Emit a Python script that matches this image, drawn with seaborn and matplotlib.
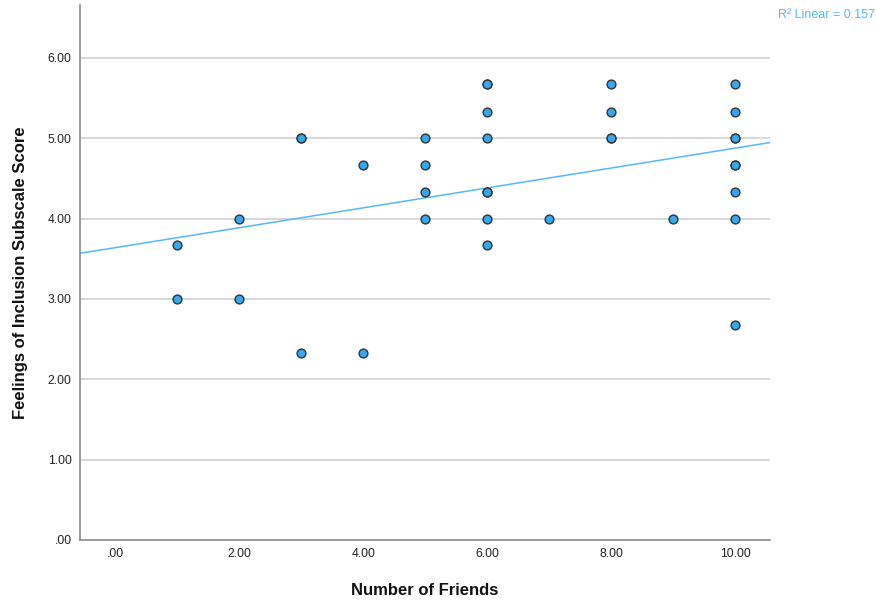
import numpy as np
import pandas as pd
import seaborn as sns
from matplotlib import pyplot as plt

# number of friends / inclusion score (overlapping points repeated)
friends = [1, 1,
           2, 2,
           3, 3, 3,
           4, 4,
           5, 5, 5, 5,
           6, 6, 6, 6, 6, 6, 6, 6,
           7,
           8, 8, 8, 8,
           9,
           10, 10, 10, 10, 10, 10, 10, 10, 10]
inclusion = [3.67, 3.00,
             4.00, 3.00,
             5.00, 5.00, 2.33,
             4.67, 2.33,
             5.00, 4.67, 4.33, 4.00,
             5.67, 5.67, 5.33, 5.00, 4.33, 4.33, 4.00, 3.67,
             4.00,
             5.67, 5.33, 5.00, 5.00,
             4.00,
             5.67, 5.33, 5.00, 5.00, 4.67, 4.67, 4.33, 4.00, 2.67]
x_ticks = [0, 2, 4, 6, 8, 10]
y_ticks = [0, 1, 2, 3, 4, 5, 6]

df = pd.DataFrame({'friends': friends, 'inclusion': inclusion})

sns.set_style('white')
plt.rcParams['font.family'] = ['Liberation Sans', 'DejaVu Sans']

fig = plt.figure(figsize=(8.77, 6.02), dpi=100)
ax = fig.add_axes([0.0912, 0.103, 0.787, 0.889])
ax.set_xlim(-0.565, 10.56)
ax.set_ylim(0, 6.66)

for yt in y_ticks[1:]:
    ax.axhline(yt, color='#d4d4d4', lw=1.3, zorder=0)

sns.regplot(data=df, x='friends', y='inclusion', ax=ax, ci=None, truncate=False,
            scatter_kws=dict(s=40, color='#34a8f0', edgecolor='#333333', linewidths=1, alpha=1, zorder=3),
            line_kws=dict(color='#55b8f7', lw=1.1, zorder=2))

ax.set_xlim(-0.565, 10.56)
ax.set_ylim(0, 6.66)
ax.set_xticks(x_ticks)
ax.set_xticklabels(['.00' if v == 0 else f'{v:.2f}' for v in x_ticks])
ax.set_yticks(y_ticks)
ax.set_yticklabels(['.00' if v == 0 else f'{v:.2f}' for v in y_ticks])
ax.tick_params(axis='both', length=0, labelsize=8.7, colors='#222222', pad=6)

for s in ['top', 'right']:
    ax.spines[s].set_visible(False)
for s in ['left', 'bottom']:
    ax.spines[s].set_color('#888888')
    ax.spines[s].set_linewidth(1.2)

ax.set_xlabel('Number of Friends', fontsize=12, fontweight='bold', labelpad=16, color='#111111')
ax.set_ylabel('Feelings of Inclusion Subscale Score', fontsize=12, fontweight='bold', labelpad=14, color='#111111')

fig.text(0.998, 0.975, 'R² Linear = 0.157', ha='right', va='center', fontsize=9, color='#55b8f7')

fig.savefig('out.png', dpi=100)
